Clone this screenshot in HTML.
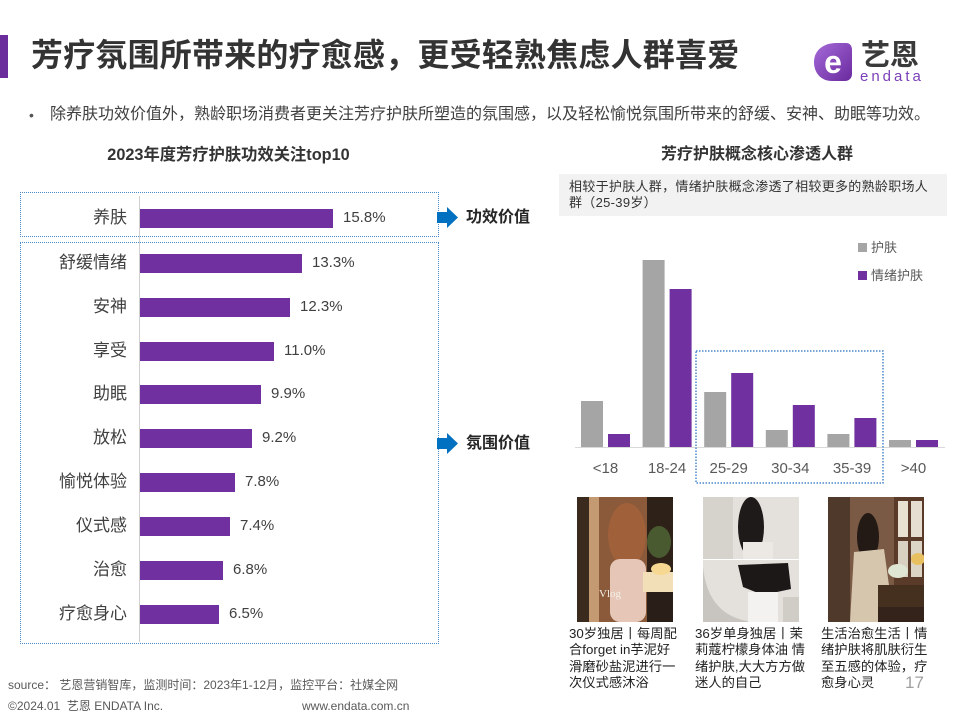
<!DOCTYPE html>
<html><head><meta charset="utf-8">
<style>
*{margin:0;padding:0;box-sizing:border-box}
html,body{width:960px;height:720px;background:#fff;overflow:hidden}
body{position:relative;font-family:"Liberation Sans","Noto Sans CJK SC",sans-serif;color:#404040}
.a{position:absolute;white-space:nowrap}
.lbl{position:absolute;right:833px;font-size:17px;height:24px;line-height:24px;color:#404040;text-align:right}
.bar{position:absolute;left:140px;height:19px;background:#7030A0}
.val{position:absolute;font-size:15px;height:20px;line-height:20px;color:#404040}
.cap{position:absolute;font-size:13.3px;line-height:16.4px;color:#222;white-space:nowrap}
</style></head><body>

<!-- title -->
<div class="a" style="left:0;top:35px;width:8px;height:43px;background:#6b2d9c"></div>
<div class="a" style="left:31px;top:35px;font-size:32px;line-height:40px;letter-spacing:0.2px;font-weight:bold;color:#333">芳疗氛围所带来的疗愈感，更受轻熟焦虑人群喜爱</div>

<!-- logo -->
<svg class="a" style="left:810px;top:40px" width="46" height="44" viewBox="0 0 46 44">
<defs><linearGradient id="lg" x1="0" y1="0" x2="1" y2="1"><stop offset="0" stop-color="#a56ad8"/><stop offset="1" stop-color="#6a2a9e"/></linearGradient></defs>
<path d="M4,22 C4,10 14,3 26,3 L36,3 C40,3 42,6 42,10 L42,34 C42,38 39,41 35,41 L22,41 C11,41 4,33 4,22 Z" fill="url(#lg)"/>
<text x="23" y="33" text-anchor="middle" font-family="Liberation Sans" font-weight="bold" font-size="32" fill="#fff">e</text>
</svg>
<div class="a" style="left:861px;top:40px;font-size:29px;line-height:32px;font-weight:bold;color:#3a3a3a">艺恩</div>
<div class="a" style="left:860px;top:69px;font-size:15px;line-height:16px;letter-spacing:3px;color:#7b3fb8">endata</div>

<!-- bullet -->
<div class="a" style="left:29px;top:105px;font-size:14px;line-height:20px;color:#555">•</div>
<div class="a" style="left:50px;top:105px;font-size:16px;line-height:20px;color:#404040">除养肤功效价值外，熟龄职场消费者更关注芳疗护肤所塑造的氛围感，以及轻松愉悦氛围所带来的舒缓、安神、助眠等功效。</div>

<!-- left chart -->
<div class="a" style="left:0;width:457px;top:145px;text-align:center;font-size:16.3px;line-height:20px;font-weight:bold;color:#333">2023年度芳疗护肤功效关注top10</div>
<div class="a" style="left:20px;top:192px;width:419px;height:45px;border:1.5px dotted #4a88c8"></div>
<div class="a" style="left:20px;top:242px;width:419px;height:402px;border:1.5px dotted #4a88c8"></div>
<div class="a" style="left:139px;top:196px;width:1px;height:446px;background:#d0d0d0"></div>

<div class="lbl" style="top:206px">养肤</div><div class="bar" style="top:209px;width:193px"></div><div class="val" style="left:343px;top:208px">15.8%</div>
<div class="lbl" style="top:251px">舒缓情绪</div><div class="bar" style="top:254px;width:162px"></div><div class="val" style="left:312px;top:253px">13.3%</div>
<div class="lbl" style="top:295px">安神</div><div class="bar" style="top:298px;width:150px"></div><div class="val" style="left:300px;top:297px">12.3%</div>
<div class="lbl" style="top:339px">享受</div><div class="bar" style="top:342px;width:134px"></div><div class="val" style="left:284px;top:341px">11.0%</div>
<div class="lbl" style="top:382px">助眠</div><div class="bar" style="top:385px;width:121px"></div><div class="val" style="left:271px;top:384px">9.9%</div>
<div class="lbl" style="top:426px">放松</div><div class="bar" style="top:429px;width:112px"></div><div class="val" style="left:262px;top:428px">9.2%</div>
<div class="lbl" style="top:470px">愉悦体验</div><div class="bar" style="top:473px;width:95px"></div><div class="val" style="left:245px;top:472px">7.8%</div>
<div class="lbl" style="top:514px">仪式感</div><div class="bar" style="top:517px;width:90px"></div><div class="val" style="left:240px;top:516px">7.4%</div>
<div class="lbl" style="top:558px">治愈</div><div class="bar" style="top:561px;width:83px"></div><div class="val" style="left:233px;top:560px">6.8%</div>
<div class="lbl" style="top:602px">疗愈身心</div><div class="bar" style="top:605px;width:79px"></div><div class="val" style="left:229px;top:604px">6.5%</div>

<!-- arrows -->
<svg class="a" style="left:437px;top:207px" width="22" height="21"><path d="M0,5 H10 V0 L21,10.5 L10,21 V16 H0 Z" fill="#0070C0"/></svg>
<div class="a" style="left:466px;top:207px;font-size:16px;line-height:22px;font-weight:bold;color:#262626">功效价值</div>
<svg class="a" style="left:437px;top:433px" width="22" height="21"><path d="M0,5 H10 V0 L21,10.5 L10,21 V16 H0 Z" fill="#0070C0"/></svg>
<div class="a" style="left:466px;top:433px;font-size:16px;line-height:22px;font-weight:bold;color:#262626">氛围价值</div>

<!-- right chart -->
<div class="a" style="left:557px;width:400px;top:145px;text-align:center;font-size:16px;line-height:20px;font-weight:bold;color:#333">芳疗护肤概念核心渗透人群</div>
<div class="a" style="left:559px;top:174px;width:388px;height:42px;background:#f2f2f2"></div>
<div class="a" style="left:569px;top:179px;font-size:13px;line-height:16px;letter-spacing:0.3px;color:#333">相较于护肤人群，情绪护肤概念渗透了相较更多的熟龄职场人<br>群（25-39岁）</div>

<div class="a" style="left:858px;top:243px;width:9px;height:9px;background:#A5A5A5"></div>
<div class="a" style="left:871px;top:239px;font-size:13px;line-height:18px;color:#595959">护肤</div>
<div class="a" style="left:858px;top:271px;width:9px;height:9px;background:#7030A0"></div>
<div class="a" style="left:871px;top:267px;font-size:13px;line-height:18px;color:#595959">情绪护肤</div>

<svg class="a" style="left:0;top:0" width="960" height="500">
<line x1="575" y1="447.5" x2="945" y2="447.5" stroke="#d9d9d9" stroke-width="1"/>
<g fill="#A5A5A5">
<rect x="581" y="401" width="22" height="46"/>
<rect x="642.6" y="260" width="22" height="187"/>
<rect x="704.2" y="392" width="22" height="55"/>
<rect x="765.8" y="430" width="22" height="17"/>
<rect x="827.4" y="434" width="22" height="13"/>
<rect x="889" y="440" width="22" height="7"/>
</g>
<g fill="#7030A0">
<rect x="608" y="434" width="22" height="13"/>
<rect x="669.6" y="289" width="22" height="158"/>
<rect x="731.2" y="373" width="22" height="74"/>
<rect x="792.8" y="405" width="22" height="42"/>
<rect x="854.4" y="418" width="22" height="29"/>
<rect x="916" y="440" width="22" height="7"/>
</g>
<rect x="696" y="351" width="187" height="132" fill="none" stroke="#4a88c8" stroke-width="1.5" stroke-dasharray="1.5,1.5"/>
<g font-family="Liberation Sans" font-size="15" fill="#595959" text-anchor="middle">
<text x="605.5" y="473">&lt;18</text>
<text x="667" y="473">18-24</text>
<text x="728.7" y="473">25-29</text>
<text x="790.3" y="473">30-34</text>
<text x="852" y="473">35-39</text>
<text x="913.5" y="473">&gt;40</text>
</g>
</svg>

<!-- photos -->
<svg class="a" style="left:577px;top:497px" width="96" height="125" viewBox="0 0 96 125">
<rect width="96" height="125" fill="#8a5a3a"/>
<rect x="0" width="12" height="125" fill="#3b2a1e"/>
<rect x="12" width="10" height="125" fill="#c49a72"/>
<rect x="70" width="26" height="75" fill="#2e2218"/>
<ellipse cx="82" cy="45" rx="12" ry="16" fill="#4a5a30"/>
<ellipse cx="50" cy="38" rx="19" ry="32" fill="#a0603a"/>
<rect x="33" y="62" width="36" height="63" rx="10" fill="#e6c6b6"/>
<rect x="66" y="75" width="30" height="20" fill="#f2dfb8"/>
<ellipse cx="84" cy="72" rx="10" ry="6" fill="#f6d890"/>
<rect x="70" y="95" width="26" height="30" fill="#2a1e18"/>
<text x="22" y="100" font-family="Liberation Serif" font-size="11" fill="#f4efe8">Vlog</text>
</svg>
<svg class="a" style="left:703px;top:497px" width="96" height="125" viewBox="0 0 96 125">
<rect width="96" height="125" fill="#e4e0dc"/>
<rect x="0" width="30" height="62" fill="#d6d2cc"/>
<ellipse cx="48" cy="30" rx="13" ry="30" fill="#1e1a1a"/>
<rect x="40" y="45" width="30" height="17" fill="#ece8e4"/>
<rect x="0" y="62" width="96" height="1" fill="#fff"/>
<path d="M0,70 Q5,120 50,125 L0,125 Z" fill="#c8c4c0"/>
<path d="M35,68 L85,66 L88,92 L60,98 L40,90 Z" fill="#1c1818"/>
<rect x="45" y="95" width="30" height="30" fill="#f4f2f0"/>
<rect x="80" y="100" width="16" height="25" fill="#d0ccc6"/>
</svg>
<svg class="a" style="left:828px;top:497px" width="96" height="125" viewBox="0 0 96 125">
<rect width="96" height="125" fill="#7a5a45"/>
<rect x="0" width="22" height="125" fill="#4e392b"/>
<rect x="66" width="30" height="92" fill="#5a3a28"/>
<rect x="70" y="4" width="10" height="36" fill="#e8e0d0"/>
<rect x="83" y="4" width="11" height="36" fill="#e6ded0"/>
<rect x="70" y="44" width="10" height="36" fill="#d8d0c0"/>
<rect x="83" y="44" width="11" height="36" fill="#dcd4c4"/>
<ellipse cx="90" cy="62" rx="7" ry="6" fill="#e8c060"/>
<ellipse cx="40" cy="40" rx="11" ry="24" fill="#231a16"/>
<path d="M26,55 L56,52 L66,125 L22,125 Z" fill="#d6c6ae"/>
<ellipse cx="70" cy="74" rx="10" ry="7" fill="#dfe6d4"/>
<rect x="50" y="88" width="46" height="22" fill="#45301f"/>
<rect x="50" y="110" width="46" height="15" fill="#33231a"/>
</svg>

<div class="cap" style="left:569px;top:626px">30岁独居丨每周配<br>合forget in芋泥好<br>滑磨砂盐泥进行一<br>次仪式感沐浴</div>
<div class="cap" style="left:695px;top:626px">36岁单身独居丨茉<br>莉蔻柠檬身体油 情<br>绪护肤,大大方方做<br>迷人的自己</div>
<div class="cap" style="left:821px;top:626px">生活治愈生活丨情<br>绪护肤将肌肤衍生<br>至五感的体验，疗<br>愈身心灵</div>

<div class="a" style="left:905px;top:673px;font-size:17px;line-height:20px;color:#a0a0a0">17</div>

<!-- footer -->
<div class="a" style="left:8px;top:677px;font-size:12px;line-height:16px;color:#595959">source： 艺恩营销智库，监测时间：2023年1-12月，监控平台：社媒全网</div>
<div class="a" style="left:8px;top:698px;font-size:12px;line-height:16px;color:#595959">©2024.01&nbsp;&nbsp;艺恩 ENDATA Inc.</div>
<div class="a" style="left:302px;top:698px;font-size:12px;line-height:16px;color:#595959">www.endata.com.cn</div>

</body></html>
